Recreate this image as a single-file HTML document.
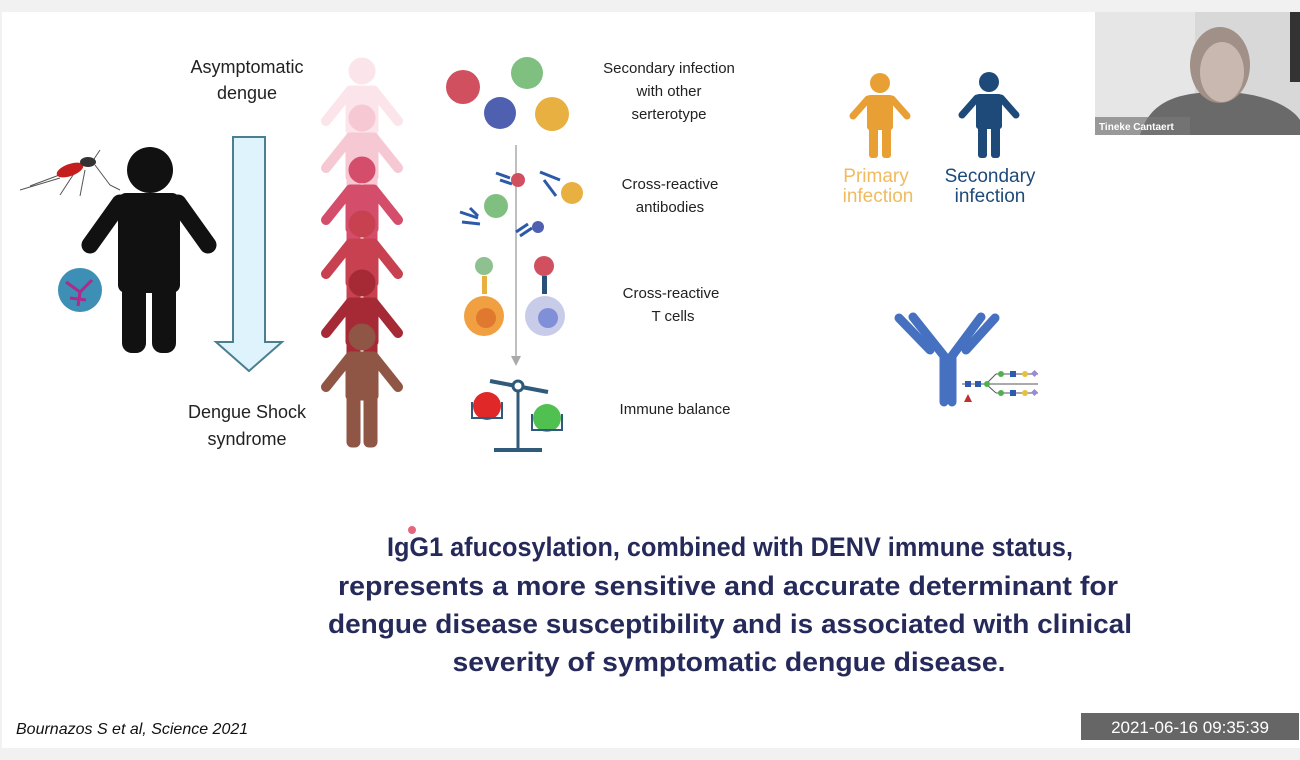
<!DOCTYPE html>
<html><head><meta charset="utf-8"><style>
html,body{margin:0;padding:0;background:#f1f1f1;}
svg{display:block}
text{font-family:"Liberation Sans",sans-serif}
</style></head><body>
<svg width="1300" height="760" viewBox="0 0 1300 760" xmlns="http://www.w3.org/2000/svg">
<defs>
<g id="p">
  <circle cx="0" cy="0" r="13"/>
  <rect x="-16" y="15" width="32" height="48" rx="4"/>
  <rect x="-15" y="55" width="13" height="55" rx="5"/>
  <rect x="2" y="55" width="13" height="55" rx="5"/>
  <line x1="-12" y1="20" x2="-36" y2="50" stroke-width="10" stroke-linecap="round" stroke="inherit"/>
  <line x1="12" y1="20" x2="36" y2="50" stroke-width="10" stroke-linecap="round" stroke="inherit"/>
</g>
</defs>
<rect x="0" y="0" width="1300" height="760" fill="#f1f1f1"/>
<rect x="2" y="12" width="1298" height="736" fill="#ffffff"/>

<!-- mosquito -->
<g stroke="#555" stroke-width="1" fill="none">
<path d="M20 190 L60 178 M30 186 L62 174 M75 172 L60 195 M85 170 L80 196 M95 165 L110 185 L120 190 M92 162 L100 150"/>
</g>
<ellipse cx="70" cy="170" rx="14" ry="6" fill="#c41e1e" transform="rotate(-20 70 170)"/>
<ellipse cx="88" cy="162" rx="8" ry="5" fill="#333"/>

<!-- black person -->
<g fill="#111" stroke="#111">
<circle cx="150" cy="170" r="23" stroke="none"/>
<rect x="118" y="193" width="62" height="100" rx="8" stroke="none"/>
<rect x="122" y="270" width="24" height="83" rx="10" stroke="none"/>
<rect x="152" y="270" width="24" height="83" rx="10" stroke="none"/>
<line x1="120" y1="203" x2="90" y2="245" stroke-width="17" stroke-linecap="round"/>
<line x1="178" y1="203" x2="208" y2="245" stroke-width="17" stroke-linecap="round"/>
</g>
<circle cx="80" cy="290" r="22" fill="#3d8fb5"/>
<path d="M66 282 L80 292 L92 280 M80 292 L78 306 M70 298 L86 300" stroke="#b02a88" stroke-width="3" fill="none"/>

<text x="247" y="73" font-size="18" text-anchor="middle" fill="#222">Asymptomatic</text>
<text x="247" y="99" font-size="18" text-anchor="middle" fill="#222">dengue</text>
<text x="247" y="418" font-size="18" text-anchor="middle" fill="#222">Dengue Shock</text>
<text x="247" y="445" font-size="18" text-anchor="middle" fill="#222">syndrome</text>

<!-- arrow -->
<path d="M233 137 H265 V342 H282 L249 371 L216 342 H233 Z" fill="#def3fb" stroke="#4a7f8f" stroke-width="2"/>

<!-- colored people column -->
<g fill="#fbe5ea" stroke="#fbe5ea"><use href="#p" x="362" y="71"/></g>
<g fill="#f5c8d4" stroke="#f5c8d4"><use href="#p" x="362" y="118"/></g>
<g fill="#d44e6c" stroke="#d44e6c"><use href="#p" x="362" y="170"/></g>
<g fill="#c84150" stroke="#c84150"><use href="#p" x="362" y="224"/></g>
<g fill="#a52a35" stroke="#a52a35"><use href="#p" x="362" y="283"/></g>
<g fill="#8f5545" stroke="#8f5545"><use href="#p" x="362" y="337"/></g>

<!-- viruses -->
<circle cx="463" cy="87" r="17" fill="#d05060"/>
<circle cx="527" cy="73" r="16" fill="#7fbf80"/>
<circle cx="500" cy="113" r="16" fill="#5060b0"/>
<circle cx="552" cy="114" r="17" fill="#e8b040"/>
<line x1="516" y1="145" x2="516" y2="358" stroke="#aaa" stroke-width="1.5"/>
<path d="M511 356 L516 366 L521 356 Z" fill="#aaa"/>
<g stroke="#2c5aa8" stroke-width="3" fill="none">
<path d="M496 173 L510 178 M500 180 L512 184 M540 172 L560 180 M544 180 L556 196 M460 212 L478 218 M462 222 L480 224 M470 208 L478 216 M520 236 L532 228 M516 232 L528 224"/>
</g>
<circle cx="518" cy="180" r="7" fill="#d05060"/>
<circle cx="572" cy="193" r="11" fill="#e8b040"/>
<circle cx="496" cy="206" r="12" fill="#7fbf80"/>
<circle cx="538" cy="227" r="6" fill="#5060b0"/>
<!-- T cells -->
<circle cx="484" cy="266" r="9" fill="#8fc08f"/>
<rect x="482" y="276" width="5" height="18" fill="#e8b040"/>
<circle cx="484" cy="316" r="20" fill="#f0a040"/>
<circle cx="486" cy="318" r="10" fill="#e07830"/>
<circle cx="544" cy="266" r="10" fill="#d05060"/>
<rect x="542" y="276" width="5" height="18" fill="#2a4f7a"/>
<circle cx="545" cy="316" r="20" fill="#c8cce8"/>
<circle cx="548" cy="318" r="10" fill="#8090d8"/>
<!-- balance -->
<g stroke="#2f5a7a" stroke-width="3" fill="none">
<line x1="518" y1="386" x2="518" y2="448"/><line x1="494" y1="450" x2="542" y2="450" stroke-width="4"/>
<line x1="490" y1="381" x2="548" y2="392" stroke-width="4"/>
<circle cx="518" cy="386" r="5" fill="#fff"/>
</g>
<circle cx="487" cy="406" r="14" fill="#e02828"/>
<circle cx="547" cy="418" r="14" fill="#50c050"/>
<g stroke="#2f5a7a" stroke-width="2" fill="none"><path d="M472 402 V418 H502 V402 M532 414 V430 H562 V414"/></g>

<g font-size="15" fill="#222" text-anchor="middle">
<text x="669" y="73">Secondary infection</text>
<text x="669" y="96">with other</text>
<text x="669" y="119">serterotype</text>
<text x="670" y="189">Cross-reactive</text>
<text x="670" y="212">antibodies</text>
<text x="671" y="298">Cross-reactive</text>
<text x="673" y="321">T cells</text>
<text x="675" y="414">Immune balance</text>
</g>

<!-- primary / secondary people -->
<g fill="#e8a035" stroke="#e8a035">
<circle cx="880" cy="83" r="10" stroke="none"/>
<rect x="867" y="95" width="26" height="35" rx="3" stroke="none"/>
<rect x="869" y="120" width="9" height="38" rx="3" stroke="none"/><rect x="882" y="120" width="9" height="38" rx="3" stroke="none"/>
<line x1="868" y1="99" x2="853" y2="116" stroke-width="7" stroke-linecap="round"/>
<line x1="892" y1="99" x2="907" y2="116" stroke-width="7" stroke-linecap="round"/>
</g>
<g fill="#1e4a7a" stroke="#1e4a7a">
<circle cx="989" cy="82" r="10" stroke="none"/>
<rect x="976" y="94" width="26" height="35" rx="3" stroke="none"/>
<rect x="978" y="120" width="9" height="38" rx="3" stroke="none"/><rect x="991" y="120" width="9" height="38" rx="3" stroke="none"/>
<line x1="977" y1="98" x2="962" y2="115" stroke-width="7" stroke-linecap="round"/>
<line x1="1001" y1="98" x2="1016" y2="115" stroke-width="7" stroke-linecap="round"/>
</g>
<g font-size="19" text-anchor="middle">
<text x="876" y="182" fill="#f0bb60">Primary</text>
<text x="878" y="202" fill="#f0bb60">infection</text>
<text x="990" y="182" fill="#1e4a7a">Secondary</text>
<text x="990" y="202" fill="#1e4a7a">infection</text>
</g>

<!-- antibody -->
<g stroke="#4670c0" stroke-linecap="round" fill="none">
<path d="M913 317 L944 356 V402 M981 317 L952 356 V402" stroke-width="9"/>
<path d="M899 318 L930 350 M995 318 L966 350" stroke-width="9"/>
</g>
<g stroke="#555" stroke-width="1"><line x1="962" y1="384" x2="1038" y2="384"/><line x1="986" y1="384" x2="996" y2="374"/><line x1="986" y1="384" x2="996" y2="393"/><line x1="996" y1="374" x2="1038" y2="374"/><line x1="996" y1="393" x2="1038" y2="393"/></g>
<rect x="965" y="381" width="6" height="6" fill="#2c5ab0"/><rect x="975" y="381" width="6" height="6" fill="#2c5ab0"/>
<circle cx="987" cy="384" r="3" fill="#50b050"/>
<circle cx="1001" cy="374" r="3" fill="#50b050"/><rect x="1010" y="371" width="6" height="6" fill="#2c5ab0"/><circle cx="1025" cy="374" r="3" fill="#e8c040"/><rect x="1032" y="371" width="5" height="5" fill="#9a8ad0" transform="rotate(45 1034.5 373.5)"/>
<circle cx="1001" cy="393" r="3" fill="#50b050"/><rect x="1010" y="390" width="6" height="6" fill="#2c5ab0"/><circle cx="1025" cy="393" r="3" fill="#e8c040"/><rect x="1032" y="390" width="5" height="5" fill="#9a8ad0" transform="rotate(45 1034.5 392.5)"/>
<path d="M968 394 L972 402 H964 Z" fill="#c03030"/>

<!-- webcam -->
<rect x="1095" y="12" width="205" height="123" fill="#d8d8d8"/>
<rect x="1095" y="12" width="100" height="123" fill="#e6e6e6"/>
<path d="M1140 135 C1150 100 1180 92 1220 92 C1260 92 1290 105 1300 120 V135 Z" fill="#6a6a6a"/>
<ellipse cx="1220" cy="65" rx="30" ry="38" fill="#a09088"/>
<ellipse cx="1222" cy="72" rx="22" ry="30" fill="#c8b8b0"/>
<rect x="1290" y="12" width="10" height="70" fill="#333"/>
<rect x="1095" y="117" width="95" height="18" fill="#777" opacity="0.7"/>
<text x="1099" y="130" font-size="10" font-weight="bold" fill="#fff">Tineke Cantaert</text>

<!-- main text -->
<circle cx="412" cy="530" r="4" fill="#e04060" opacity="0.8"/>
<g font-size="27" font-weight="bold" fill="#262a5a" text-anchor="middle">
<text x="730" y="556" textLength="686" lengthAdjust="spacingAndGlyphs">IgG1 afucosylation, combined with DENV immune status,</text>
<text x="728" y="595" textLength="780" lengthAdjust="spacingAndGlyphs">represents a more sensitive and accurate determinant for</text>
<text x="730" y="633" textLength="804" lengthAdjust="spacingAndGlyphs">dengue disease susceptibility and is associated with clinical</text>
<text x="729" y="671" textLength="553" lengthAdjust="spacingAndGlyphs">severity of symptomatic dengue disease.</text>
</g>
<text x="16" y="734" font-size="16" font-style="italic" fill="#111">Bournazos S et al, Science 2021</text>
<rect x="1081" y="713" width="218" height="27" fill="#666"/>
<text x="1190" y="733" font-size="17" fill="#fff" text-anchor="middle" font-family="Liberation Sans">2021-06-16  09:35:39</text>
</svg>
</body></html>
